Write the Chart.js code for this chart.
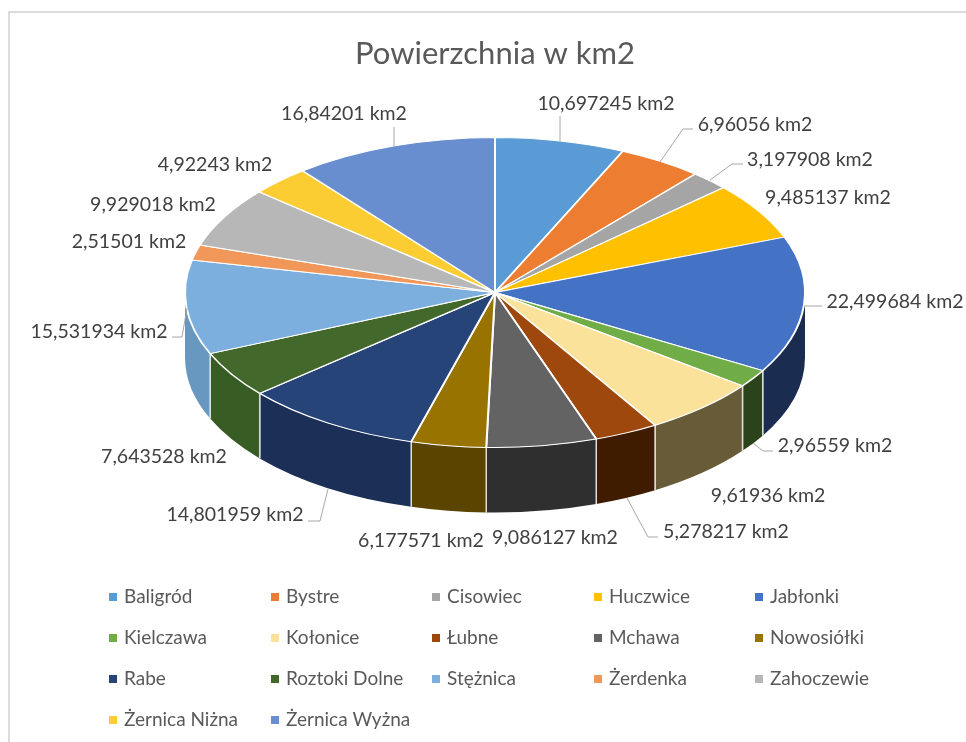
<!DOCTYPE html>
<html>
<head>
<meta charset="utf-8">
<style>
  html, body { margin: 0; padding: 0; background: #fff; }
  #frame { position: absolute; left: 8px; top: 11px; width: 958px; height: 731px; border-left: 2px solid #dcdcdc; border-top: 2px solid #dcdcdc; box-sizing: border-box; }
  #myChart { position: absolute; left: 0; top: 0; }
</style>
</head>
<body>
<div id="frame"></div>
<canvas id="myChart" width="966" height="742"></canvas>
<script src="https://cdn.jsdelivr.net/npm/chart.js@4"></script>
<script>
// Values
const places = ['Baligród', 'Bystre', 'Cisowiec', 'Huczwice', 'Jabłonki', 'Kielczawa', 'Kołonice', 'Łubne', 'Mchawa', 'Nowosiółki', 'Rabe', 'Roztoki Dolne', 'Stężnica', 'Żerdenka', 'Zahoczewie', 'Żernica Niżna', 'Żernica Wyżna'];
const areas = [10.697245, 6.96056, 3.197908, 9.485137, 22.499684, 2.96559, 9.61936, 5.278217, 9.086127, 6.177571, 14.801959, 7.643528, 15.531934, 2.51501, 9.929018, 4.92243, 16.84201];
const areaLabels = ['10,697245 km2', '6,96056 km2', '3,197908 km2', '9,485137 km2', '22,499684 km2', '2,96559 km2', '9,61936 km2', '5,278217 km2', '9,086127 km2', '6,177571 km2', '14,801959 km2', '7,643528 km2', '15,531934 km2', '2,51501 km2', '9,929018 km2', '4,92243 km2', '16,84201 km2'];

// Top face and side wall colours
const topColors = ['#5b9bd5', '#ed7d31', '#a5a5a5', '#ffc000', '#4472c4', '#70ad47', '#fbe29a', '#9e480e', '#636363', '#997300', '#264478', '#43682b', '#7cafdd', '#f1975a', '#b7b7b7', '#fbcd33', '#698ed0'];
const wallColors = ['#5b9bd5', '#ed7d31', '#a5a5a5', '#ffc000', '#1a2d50', '#2b431b', '#685b38', '#3f1c00', '#2f2f2f', '#5a4400', '#1b2f57', '#375c24', '#6898c0', '#f1975a', '#b7b7b7', '#fbcd33', '#698ed0'];

// Where each data label sits (centre of the text) and its leader line, if any
const labelSpots = [[606, 103], [755, 124], [810, 159], [828, 197], [895, 301], [835, 445], [768, 495], [726, 531], [555, 537], [421, 540], [235, 514], [164, 456], [99, 331], [129, 241], [153, 204], [215, 164], [344, 113]];
const leaders = [
  [[560, 141], [560, 116]],
  [[660, 162], [683, 129], [693, 129]],
  [[710, 180], [732, 164], [743, 164]],
  null,
  [[804, 306], [822, 306]],
  [[753, 443], [763, 451], [773, 451]],
  null,
  [[627, 498], [648, 537], [658, 537]],
  null,
  null,
  [[328, 489], [320, 521], [308, 521]],
  null,
  [[187, 308], [182, 337], [172, 337]],
  null, null, null,
  [[394, 127], [394, 146]]
];

const pieX = 495, pieY = 292.5, squash = 0.5, depth = 65;
const legendCols = [109, 271, 432, 594, 755];
const legendRows = [597, 638, 679, 720];

const pie3d = {
  id: 'pie3d',
  beforeDatasetsDraw(chart) {
    const ctx = chart.ctx;
    const arcs = chart.getDatasetMeta(0).data;
    const rx = arcs[0].outerRadius, ry = rx * squash;

    // side walls, only the part facing us
    arcs.forEach(function (arc, i) {
      const a0 = Math.max(arc.startAngle, 0);
      const a1 = Math.min(arc.endAngle, Math.PI);
      if (a1 <= a0) return;
      ctx.beginPath();
      ctx.ellipse(pieX, pieY, rx, ry, 0, a0, a1);
      ctx.ellipse(pieX, pieY + depth, rx, ry, 0, a1, a0, true);
      ctx.closePath();
      ctx.fillStyle = wallColors[i];
      ctx.fill();
      // light seam between two walls
      ctx.strokeStyle = 'rgba(235,235,235,0.85)';
      ctx.lineWidth = 1.5;
      [arc.startAngle, arc.endAngle].forEach(function (a) {
        if (a <= 0 || a >= Math.PI) return;
        const x = pieX + rx * Math.cos(a), y = pieY + ry * Math.sin(a);
        ctx.beginPath();
        ctx.moveTo(x, y);
        ctx.lineTo(x, y + depth);
        ctx.stroke();
      });
    });

    // squash the flat pie into the top face
    ctx.save();
    ctx.translate(pieX, pieY);
    ctx.scale(1, squash);
    ctx.translate(-arcs[0].x, -arcs[0].y);
  },
  afterDatasetsDraw(chart) {
    const ctx = chart.ctx;
    ctx.restore();

    // data labels and leader lines
    ctx.font = '19.5px Lato';
    ctx.textAlign = 'center';
    ctx.textBaseline = 'middle';
    areaLabels.forEach(function (text, i) {
      ctx.fillStyle = '#404040';
      ctx.fillText(text, labelSpots[i][0], labelSpots[i][1] + 1);
      if (!leaders[i]) return;
      ctx.beginPath();
      leaders[i].forEach(function (p, j) {
        if (j === 0) ctx.moveTo(p[0], p[1]); else ctx.lineTo(p[0], p[1]);
      });
      ctx.strokeStyle = '#a6a6a6';
      ctx.lineWidth = 1;
      ctx.stroke();
    });

    // legend, 5 columns like the original
    ctx.font = '19px Lato';
    ctx.textAlign = 'left';
    places.forEach(function (name, i) {
      const x = legendCols[i % 5], y = legendRows[Math.floor(i / 5)];
      ctx.fillStyle = topColors[i];
      ctx.fillRect(x, y - 4, 8, 8);
      ctx.fillStyle = '#595959';
      ctx.fillText(name, x + 15, y);
    });
  }
};

new Chart(document.getElementById('myChart'), {
  type: 'pie',
  data: {
    labels: places,
    datasets: [{
      data: areas,
      backgroundColor: topColors,
      borderColor: '#ffffff',
      borderWidth: 2,
      clip: false
    }]
  },
  options: {
    responsive: false,
    animation: false,
    layout: { padding: { left: 184, right: 160, top: 0, bottom: 40 } },
    plugins: {
      legend: { display: false },
      tooltip: { enabled: false },
      title: {
        display: true,
        text: 'Powierzchnia w km2',
        color: '#595959',
        font: { family: 'Lato', size: 31, weight: 'normal' },
        padding: { top: 35, bottom: 0 }
      }
    }
  },
  plugins: [pie3d]
});
</script>
</body>
</html>
